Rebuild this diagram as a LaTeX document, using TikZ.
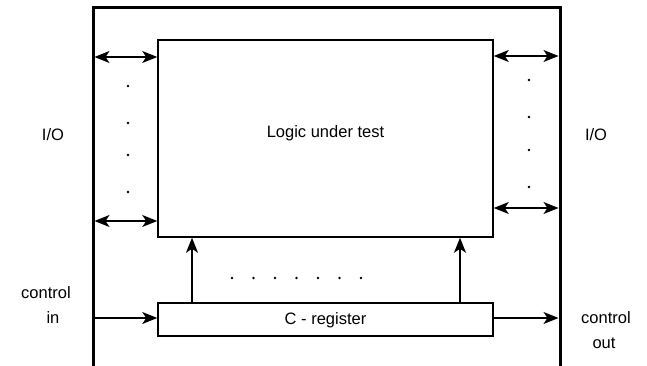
\documentclass[tikz,border=0pt]{standalone}
\usepackage{fontspec}
\setmainfont{Liberation Sans}
\usetikzlibrary{arrows.meta}
\begin{document}
\begin{tikzpicture}[x=1pt,y=-1pt,
  box/.style={draw,line width=1.5pt,inner sep=0pt},
  conn/.style={line width=1.5pt},
  hd/.tip={Stealth[length=15pt,width=12pt,inset=4pt]},
  tip/.style={-hd},
  dtip/.style={hd-hd},
  lab/.style={font=\fontsize{16.5}{19}\selectfont,align=center,inner sep=0pt},
  dotc/.style={fill,circle,inner sep=0pt,minimum size=2.8pt}]
\useasboundingbox (0,0) rectangle (647,366);
% frame
\coordinate (fl1) at (93,366);
\coordinate (fl2) at (93,8);
\coordinate (fr1) at (560,8);
\coordinate (fr2) at (560,366);
\draw[line width=3pt] (fl1) -- (fl2) -- (fr1) -- (fr2);
% boxes
\node[box,minimum width=335pt,minimum height=197pt] (logic) at (325.5,138.5) {};
\node[lab] (lt) at (325.5,133) {Logic under test};
\node[box,minimum width=335pt,minimum height=33pt] (creg) at (325.5,319.5) {};
\node[lab] (ct) at (325.5,320) {C - register};
% left I/O arrows
\coordinate (la1) at (94.5,57);
\coordinate (la2) at (94.5,221);
\draw[conn,dtip] (la1) -- (la1 -| logic.west);
\draw[conn,dtip] (la2) -- (la2 -| logic.west);
% right I/O arrows
\coordinate (ra1) at (558.5,56);
\coordinate (ra2) at (558.5,208);
\draw[conn,dtip] (ra1 -| logic.east) -- (ra1);
\draw[conn,dtip] (ra2 -| logic.east) -- (ra2);
% control arrows
\coordinate (ci) at (94.5,318);
\coordinate (co) at (558.5,318);
\draw[conn,tip] (ci) -- (ci -| creg.west);
\draw[conn,tip] (co -| creg.east) -- (co);
% up arrows
\coordinate (u1) at (192,0);
\coordinate (u2) at (460,0);
\draw[conn,tip] (u1 |- creg.north) -- (u1 |- logic.south);
\draw[conn,tip] (u2 |- creg.north) -- (u2 |- logic.south);
% dots
\foreach \y [count=\i] in {86,123,155,192} \node[dotc] (dl\i) at (128,\y) {};
\foreach \y [count=\i] in {80,117,150,187} \node[dotc] (dr\i) at (529,\y) {};
\foreach \x [count=\i] in {232,253.5,275,296.5,318,339.5,361} \node[dotc] (dm\i) at (\x,278) {};
% labels
\node[lab] (io1) at (53,135) {I/O};
\node[lab] (io2) at (596,135) {I/O};
\node[lab] (cin) at (46,293) {control};
\node[lab] (cin2) at (53,318) {in};
\node[lab] (cout) at (606,318) {control};
\node[lab] (cout2) at (604,343) {out};
\end{tikzpicture}
\end{document}
